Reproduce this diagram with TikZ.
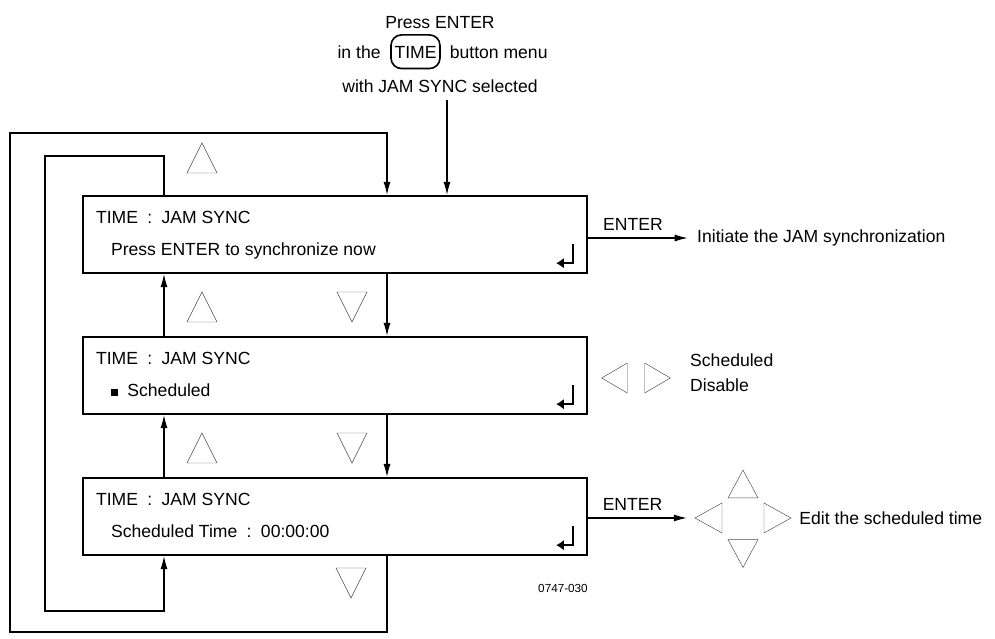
\documentclass[tikz,border=0pt]{standalone}
\usepackage{fontspec}
\setmainfont{Liberation Sans}
\usetikzlibrary{arrows.meta, positioning, calc}
\newcommand\lcdfont{\fontsize{15pt}{21pt}\selectfont}
\newcommand\colsep{\hspace{8pt}:\hspace{8pt}}
\tikzset{
  % LCD screens
  screen/.style={draw, line width=2pt, minimum width=15.12cm, minimum height=2.31cm, inner sep=0pt},
  lcd/.style={anchor=base west, inner sep=0pt, font=\lcdfont},
  keycap/.style={draw, line width=1.4pt, rounded corners=9pt, font=\lcdfont, inner xsep=3pt,
    text height=10.7pt, text depth=0pt, inner ysep=9pt},
  % Connectors
  flow/.style={-{Latex[length=11pt,width=6pt]}, line width=0.9pt},
  % Button glyphs
  navtri line/.style={draw=black!70, line width=0.4pt},
  navtri/.pic={\draw[navtri line] (0,-15) -- (15,15) -- (-15,15) -- cycle;},
  retkey/.pic={\draw[line width=2.2pt, -{Latex[length=6.5pt,width=9pt]}] (0,-19) -- (0,0) -- (-17,0);},
}

\begin{document}
\begin{tikzpicture}[x=0.03cm, y=-0.03cm]
  \useasboundingbox (0,0) rectangle (995,639);

  % entry text
  \node[lcd, anchor=base] (press) at (440,28) {Press ENTER};
  \node[keycap, anchor=base] (timekey) at (415.5,58) {TIME};
  \node[lcd, anchor=base east] (inthe) at ([xshift=-8pt]timekey.base west) {in the};
  \node[lcd, anchor=base west] (btnmenu) at ([xshift=7.5pt]timekey.base east) {button menu};
  \node[lcd, anchor=base] (selected) at (440,92) {with JAM SYNC selected};

  % screens
  \node[screen] (jam) at (335,234.5) {};
  \node[screen] (mode) at (335,375.5) {};
  \node[screen] (sched) at (335,516.5) {};

  \node[lcd] (jamhead) at ($(jam.north west)+(14,29)$) {TIME\colsep JAM SYNC};
  \node[lcd] (jamline) at ($(jam.north west)+(29,61)$) {Press ENTER to synchronize now};
  \node[lcd] (modehead) at ($(mode.north west)+(14,29)$) {TIME\colsep JAM SYNC};
  \node[lcd] (modeline) at ($(mode.north west)+(29,61)$) {\rule[0.5pt]{6pt}{6pt}\hspace{8pt}Scheduled};
  \node[lcd] (schedhead) at ($(sched.north west)+(14,29)$) {TIME\colsep JAM SYNC};
  \node[lcd] (schedline) at ($(sched.north west)+(29,61)$) {Scheduled Time\colsep 00:00:00};

  \pic at ($(jam.south east)+(-15,-11)$) {retkey};
  \pic at ($(mode.south east)+(-15,-11)$) {retkey};
  \pic at ($(sched.south east)+(-15,-11)$) {retkey};

  % columns of the connectors
  \coordinate (rcol) at (387,0);
  \coordinate (lcol) at (164,0);
  \coordinate (entcol) at (447,100);
  \coordinate (outerB) at (10,632);
  \coordinate (outerT) at (10,133);
  \coordinate (innerT) at (45,156);
  \coordinate (innerB) at (45,611);

  \draw[flow] (entcol) -- (jam.north -| entcol);
  \draw[flow] (jam.south -| rcol) -- (mode.north -| rcol);
  \draw[flow] (mode.south -| rcol) -- (sched.north -| rcol);
  \draw[flow] (mode.north -| lcol) -- (jam.south -| lcol);
  \draw[flow] (sched.north -| lcol) -- (mode.south -| lcol);
  \draw[flow] (sched.south -| rcol) -- (rcol |- outerB) -- (outerB) -- (outerT) -- (outerT -| rcol) -- (jam.north -| rcol);
  \draw[flow] (jam.north -| lcol) -- (lcol |- innerT) -- (innerT) -- (innerB) -- (innerB -| lcol) -- (sched.south -| lcol);

  % up / down keys
  \pic at (202,158) {navtri};
  \pic at (202,307) {navtri};
  \pic at (202,448) {navtri};
  \pic[rotate=180] at (352,307) {navtri};
  \pic[rotate=180] at (352,448) {navtri};
  \pic[rotate=180] at (351,583) {navtri};

  % ENTER on the first screen
  \node[lcd, anchor=west] (initiate) at (697,238) {Initiate the JAM synchronization};
  \draw[flow] (jam.east |- initiate.west) -- ([xshift=-8pt]initiate.west) node[pos=0.45, above=6pt, lcd, anchor=base] {ENTER};

  % left / right on the second screen
  \pic[rotate=90, yscale=0.85] at (614.5,378) {navtri};
  \pic[rotate=-90, yscale=0.85] at (657.5,378) {navtri};
  \node[lcd] (optsched) at (690,366.5) {Scheduled};
  \node[lcd] (optdis) at (690,391.5) {Disable};

  % ENTER on the third screen
  \node[minimum width=3.36cm, minimum height=3cm, inner sep=0pt] (editpad) at (743,518) {};
  \pic[rotate=90, yscale=0.9] at ($(editpad)+(-34.5,0)$) {navtri};
  \pic[rotate=-90, yscale=0.9] at ($(editpad)+(34.5,0)$) {navtri};
  \pic[yscale=0.93] at ($(editpad)+(0,-34)$) {navtri};
  \pic[rotate=180, yscale=0.93] at ($(editpad)+(0,35.5)$) {navtri};
  \draw[flow] (sched.east |- editpad.west) -- (editpad.west) node[pos=0.45, above=6pt, lcd, anchor=base] {ENTER};
  \node[lcd, anchor=west, right=0pt of editpad] (edit) {Edit the scheduled time};

  \node[font=\fontsize{10pt}{12pt}\selectfont] (figno) at (563,588) {0747-030};
\end{tikzpicture}
\end{document}
